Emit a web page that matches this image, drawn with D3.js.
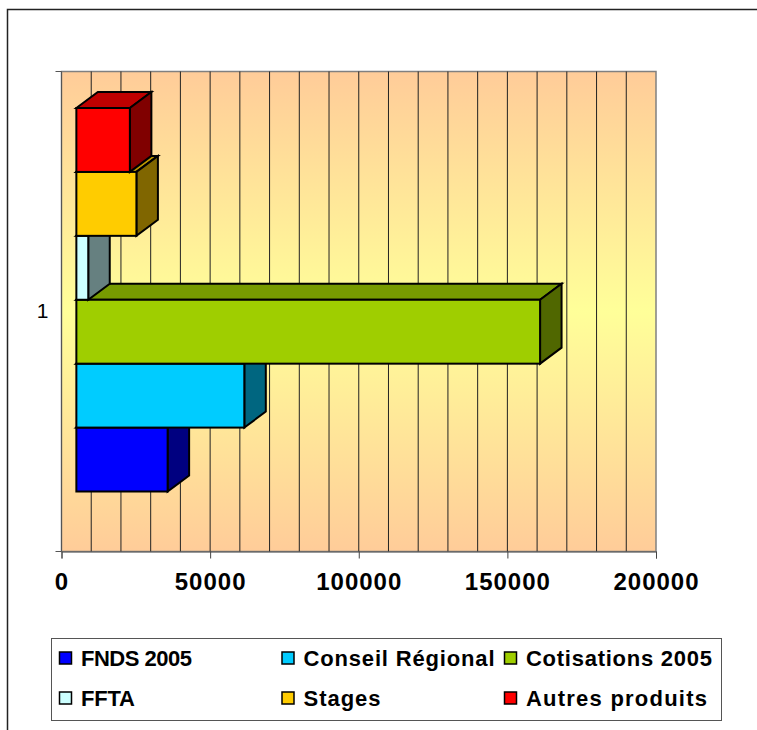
<!DOCTYPE html>
<html>
<head>
<meta charset="utf-8">
<script src="https://cdn.jsdelivr.net/npm/d3@7"></script>
<style>
  html, body { margin: 0; padding: 0; background: #fff; overflow: hidden; }
  svg { display: block; font-family: "Liberation Sans", Arial, sans-serif; }
</style>
</head>
<body>
<script>
// Data (right edge of each front face against the axis)
const categories = ["1"];
const seriesNames = ["FNDS 2005", "Conseil Régional", "Cotisations 2005", "FFTA", "Stages", "Autres produits"];
const seriesValues = [35700, 61500, 161000, 9000, 25200, 23000];
const seriesColors = ["#0000ff", "#00ccff", "#9fce00", "#ccffff", "#ffcc00", "#ff0000"];
const xTickValues = [0, 50000, 100000, 150000, 200000];
const gridValues = [10000, 20000, 30000, 40000, 50000, 60000, 70000, 80000, 90000, 100000,
  110000, 120000, 130000, 140000, 150000, 160000, 170000, 180000, 190000];
const legendTextWidths = [111, 191, 186, 54, 77, 181];

const width = 757;
const height = 730;
const plot = { left: 61.5, right: 656, top: 71.5, bottom: 551.5 };
const barTop = 108, barBottom = 491.5;
const depth = { dx: 21.5, dy: -16 };

const svg = d3.select("body").append("svg")
    .attr("width", width)
    .attr("height", height);

// Outer frame runs off the right and bottom of the picture
svg.append("path")
    .attr("d", `M7.5,${height + 2}V9.5H${width + 2}`)
    .attr("fill", "none")
    .attr("stroke", "#222")
    .attr("stroke-width", 1.5);

// Wall gradient
const grad = svg.append("defs").append("linearGradient")
    .attr("id", "wall")
    .attr("x1", 0).attr("x2", 0).attr("y1", 0).attr("y2", 1);
grad.append("stop").attr("offset", "0%").attr("stop-color", "#ffcc99");
grad.append("stop").attr("offset", "50%").attr("stop-color", "#ffff99");
grad.append("stop").attr("offset", "100%").attr("stop-color", "#ffcc99");

// Scales
const x = d3.scaleLinear().domain([0, 200000]).range([plot.left, plot.right]);
const yCat = d3.scaleBand().domain(categories).range([plot.bottom, plot.top]);
const yBar = d3.scaleBand().domain(seriesNames).range([barBottom, barTop]);
const base = x(5000); // bars sit in front of the wall, so they start right of it

svg.append("rect")
    .attr("x", plot.left).attr("y", plot.top)
    .attr("width", plot.right - plot.left).attr("height", plot.bottom - plot.top)
    .attr("fill", "url(#wall)")
    .attr("stroke", "#808080")
    .attr("stroke-width", 1.5);

// Gridlines
svg.selectAll(".grid")
    .data(gridValues)
    .enter().append("line")
    .attr("class", "grid")
    .attr("x1", d => x(d)).attr("x2", d => x(d))
    .attr("y1", plot.top).attr("y2", plot.bottom)
    .attr("stroke", "#222")
    .attr("stroke-width", 1);

// Axes
const xAxis = d3.axisBottom(x).tickValues(xTickValues).tickSize(7).tickPadding(14).tickFormat(d3.format("d"));
const gx = svg.append("g")
    .attr("transform", `translate(0,${plot.bottom})`)
    .call(xAxis);
gx.select(".domain").attr("stroke", "#555");
gx.selectAll("line").attr("stroke", "#444");
gx.selectAll("text")
    .attr("fill", "#000")
    .style("font-size", "24px")
    .style("font-weight", "bold")
    .style("letter-spacing", "1px");

const yAxis = d3.axisLeft(yCat).tickSize(0).tickPadding(13);
const gy = svg.append("g")
    .attr("transform", `translate(${plot.left},0)`)
    .call(yAxis);
gy.select(".domain").attr("stroke", "#555").attr("d", `M-6,${plot.top}H0V${plot.bottom}H-6`);
gy.selectAll("text").attr("fill", "#000").style("font-size", "21px");

// 3D bars, bottom series first so each one covers the top of the one below
const bars = svg.selectAll(".bar")
    .data(seriesNames)
    .enter().append("g")
    .attr("class", "bar")
    .attr("stroke", "#000")
    .attr("stroke-width", 2)
    .attr("stroke-linejoin", "miter");

const shade = (c, k) => {
    const r = d3.rgb(c);
    return d3.rgb(r.r * k, r.g * k, r.b * k).formatHex();
};

bars.append("path") // top
    .attr("fill", (d, i) => shade(seriesColors[i], 0.75))
    .attr("d", (d, i) => {
        const t = yBar(d), r = x(seriesValues[i]);
        return `M${base},${t}l${depth.dx},${depth.dy}H${r + depth.dx}L${r},${t}Z`;
    });

bars.append("path") // side
    .attr("fill", (d, i) => shade(seriesColors[i], 0.5))
    .attr("d", (d, i) => {
        const t = yBar(d), r = x(seriesValues[i]), h = yBar.bandwidth();
        return `M${r},${t}l${depth.dx},${depth.dy}v${h}l${-depth.dx},${-depth.dy}Z`;
    });

bars.append("rect") // front
    .attr("x", base)
    .attr("y", d => yBar(d))
    .attr("width", (d, i) => x(seriesValues[i]) - base)
    .attr("height", yBar.bandwidth())
    .attr("fill", (d, i) => seriesColors[i]);

// Legend
svg.append("rect")
    .attr("x", 51.5).attr("y", 638.5)
    .attr("width", 670).attr("height", 82)
    .attr("fill", "#fff")
    .attr("stroke", "#555")
    .attr("stroke-width", 1);

const legendCols = d3.scalePoint().domain([0, 1, 2]).range([59, 504]);
const legendRows = d3.scalePoint().domain([0, 1]).range([658, 698]);

const items = svg.selectAll(".legend-item")
    .data(seriesNames)
    .enter().append("g")
    .attr("class", "legend-item")
    .attr("transform", (d, i) => `translate(${legendCols(i % 3)},${legendRows(Math.floor(i / 3))})`);

items.append("rect")
    .attr("x", 0.5).attr("y", -6)
    .attr("width", 12).attr("height", 12)
    .attr("fill", (d, i) => seriesColors[i])
    .attr("stroke", "#000")
    .attr("stroke-width", 1.5);

items.append("text")
    .attr("x", 22)
    .attr("y", 8)
    .attr("textLength", (d, i) => legendTextWidths[i])
    .attr("lengthAdjust", "spacing")
    .style("font-size", "22px")
    .style("font-weight", "bold")
    .text(d => d);
</script>
</body>
</html>
